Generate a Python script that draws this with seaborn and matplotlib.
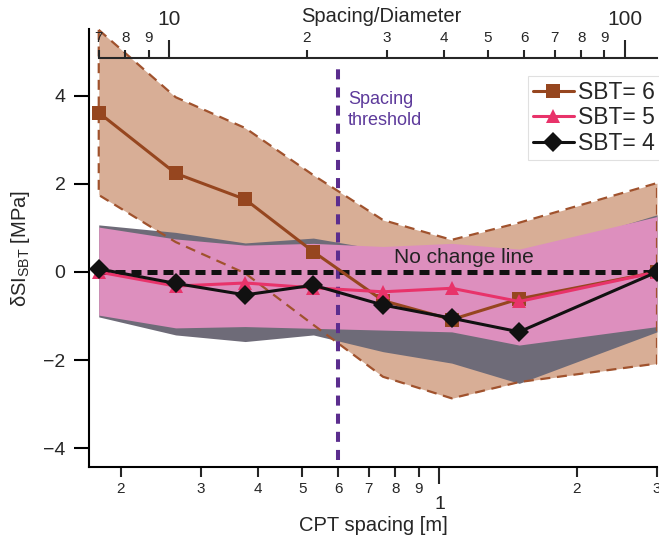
import matplotlib
matplotlib.use('Agg')
import matplotlib.pyplot as plt
import seaborn as sns
import pandas as pd

# ---------------- data ----------------
cpt_spacing = [0.179, 0.264, 0.375, 0.529, 0.752, 1.064, 1.496, 3.0]
sbt6 = [3.62, 2.24, 1.65, 0.46, -0.65, -1.08, -0.61, 0.0]
sbt5 = [0.0, -0.32, -0.25, -0.36, -0.45, -0.37, -0.67, 0.0]
sbt4 = [0.07, -0.26, -0.52, -0.30, -0.75, -1.05, -1.36, 0.0]
sbt6_hi = [5.5, 3.97, 3.27, 2.2, 1.18, 0.73, 1.12, 2.02]
sbt6_lo = [1.75, 0.68, -0.03, -1.2, -2.38, -2.87, -2.50, -2.08]
sbt5_hi = [1.02, 0.75, 0.61, 0.65, 0.58, 0.65, 0.52, 1.26]
sbt5_lo = [-0.98, -1.27, -1.24, -1.28, -1.32, -1.36, -1.66, -1.24]
sbt4_hi = [1.07, 0.90, 0.66, 0.77, 0.50, 0.50, 0.35, 1.30]
sbt4_lo = [-1.02, -1.43, -1.58, -1.43, -1.81, -2.07, -2.53, -1.36]
spacing_threshold = 0.6
no_change = 0.0
cone_diameter = 0.02557

series_labels = ['SBT= 6', 'SBT= 5', 'SBT= 4']
y_ticks = [-4, -2, 0, 2, 4]
x_major = [1]
x_major_labels = ['1']
x_minor = [0.2, 0.3, 0.4, 0.5, 0.6, 0.7, 0.8, 0.9, 2, 3]
x_minor_labels = ['2', '3', '4', '5', '6', '7', '8', '9', '2', '3']
top_major = [10, 100]
top_major_labels = ['10', '100']
top_minor = [7, 8, 9, 20, 30, 40, 50, 60, 70, 80, 90]
top_minor_labels = ['7', '8', '9', '2', '3', '4', '5', '6', '7', '8', '9']

# ---------------- style ----------------
sns.set_style('ticks')
plt.rcParams['font.family'] = ['Liberation Sans', 'DejaVu Sans']
plt.rcParams['mathtext.fontset'] = 'custom'
plt.rcParams['mathtext.rm'] = 'Liberation Sans'
plt.rcParams['mathtext.it'] = 'Liberation Sans:italic'

tan = '#d8ae96'
pinkfill = '#dd8fbe'
grayfill = '#6e6b78'
brown = '#96461f'
brown_dash = '#a0522d'
pinkline = '#e8336a'
black = '#111111'
purple = '#5b2d8e'
purple_text = '#5d3a9b'

W, H = 659, 542
fig = plt.figure(figsize=(W / 100, H / 100), dpi=100)
ax = fig.add_axes([89 / W, 1 - 467 / H, (657 - 89) / W, (467 - 29) / H])
ax.set_xscale('log')

# bands
ax.fill_between(cpt_spacing, sbt6_lo, sbt6_hi, color=tan, lw=0, zorder=1)
ax.fill_between(cpt_spacing, sbt4_lo, sbt4_hi, color=grayfill, lw=0, zorder=1.1)
ax.fill_between(cpt_spacing, sbt5_lo, sbt5_hi, color=pinkfill, lw=0, zorder=1.2)
ox = cpt_spacing + cpt_spacing[::-1] + cpt_spacing[:1]
oy = sbt6_hi + sbt6_lo[::-1] + sbt6_hi[:1]
ax.plot(ox, oy, color=brown_dash, lw=1.6, dashes=(4.5, 3), zorder=2)

# threshold & no-change line
ax.axvline(spacing_threshold, ymin=0.016, ymax=0.913, color=purple, lw=2.9,
           dashes=(2.5, 2.0), zorder=2.5)
ax.hlines(no_change, cpt_spacing[0], cpt_spacing[-1], color=black, lw=3.6,
          linestyles=(0, (2.0, 1.2)), zorder=3)

# series
df = pd.DataFrame({'spacing': cpt_spacing, 's6': sbt6, 's5': sbt5, 's4': sbt4})
sns.lineplot(data=df, x='spacing', y='s6', ax=ax, color=brown, lw=2.2, marker='s',
             markersize=10.5, markeredgewidth=0, sort=False, label=series_labels[0], zorder=4)
sns.lineplot(data=df, x='spacing', y='s5', ax=ax, color=pinkline, lw=2.2, marker='^',
             markersize=10.5, markeredgewidth=0, sort=False, label=series_labels[1], zorder=5)
sns.lineplot(data=df, x='spacing', y='s4', ax=ax, color=black, lw=2.2, marker='D',
             markersize=10.5, markeredgewidth=0, sort=False, label=series_labels[2], zorder=6)

ax.set_xlim(0.1704, 3.0)
ax.set_ylim(-4.43, 5.52)

for s in ['top', 'right']:
    ax.spines[s].set_visible(False)
for s in ['left', 'bottom']:
    ax.spines[s].set_linewidth(1.5)
    ax.spines[s].set_color('black')

ax.set_yticks(y_ticks)
ax.set_xticks(x_major, x_major_labels)
ax.set_xticks(x_minor, x_minor_labels, minor=True)
ax.tick_params(axis='y', length=11, width=1.5, pad=6, labelsize=14, color='black')
ax.tick_params(axis='x', which='major', length=12, width=1.5, pad=9, labelsize=14)
ax.tick_params(axis='x', which='minor', length=7, width=1.5, pad=3.5, labelsize=11)
ax.set_xlabel('CPT spacing [m]', fontsize=14.5, labelpad=2)
ax.set_ylabel(r'δSI$_{\mathrm{SBT}}$ [MPa]', fontsize=14.5, labelpad=8)

# texts
ax.text(0.63, 4.11, 'Spacing\nthreshold', color=purple_text, fontsize=13,
        ha='left', va='top', linespacing=1.3, zorder=7)
ax.text(0.795, 0.2, 'No change line', color='#222222', fontsize=15,
        ha='left', va='baseline', zorder=7)

leg = ax.legend(loc='upper left', bbox_to_anchor=(528 / W, 1 - 76 / H),
                bbox_transform=fig.transFigure, fontsize=16.5, frameon=True,
                fancybox=False, edgecolor='#e0e0e0', framealpha=1,
                borderpad=0.2, handlelength=1.8, handletextpad=0.2,
                labelspacing=0.12, borderaxespad=0)
leg.get_frame().set_linewidth(0.8)

# top axis (Spacing/Diameter)
axt = fig.add_axes([89 / W, 1 - 58 / H, (657 - 89) / W, 1e-6])
axt.set_xscale('log')
axt.set_xlim(0.1704 / cone_diameter, 3.0 / cone_diameter)
axt.patch.set_visible(False)
for s in ['left', 'right', 'bottom']:
    axt.spines[s].set_visible(False)
axt.spines['top'].set_linewidth(1.5)
axt.spines['top'].set_bounds(top_minor[0], 3.0 / cone_diameter)
axt.yaxis.set_visible(False)
axt.xaxis.tick_top()
axt.set_xticks(top_major, top_major_labels)
axt.set_xticks(top_minor, top_minor_labels, minor=True)
axt.tick_params(axis='x', which='major', top=True, bottom=False, length=13, width=1.5,
                pad=8, labelsize=15, direction='out')
axt.tick_params(axis='x', which='minor', top=True, bottom=False, length=6, width=1.5,
                pad=3.5, labelsize=11, direction='out')
fig.text(381 / W, 1 - 17 / H, 'Spacing/Diameter', fontsize=14.5, ha='center', va='center')

fig.savefig('out.png', dpi=100)
